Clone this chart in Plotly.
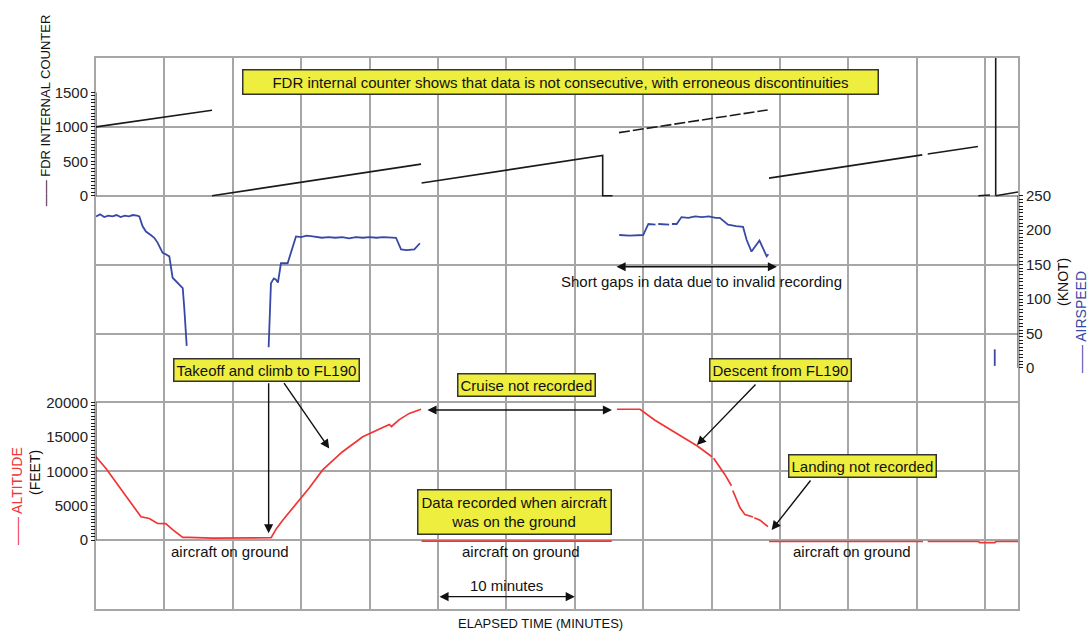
import numpy as np
import plotly.graph_objects as go

# ---------------- data (elapsed minutes / values) ----------------
# FDR internal counter (solid segments, None = break)
cnt_min = [0, 8.48, None, 8.48, 23.76, None, 23.8, 37.04, 37.04, 37.76, None,
           49.2, 60.4, None, 60.8, 64.47, None, 64.5, 65.35, None,
           65.77, 65.77, None, 65.77, 67.4]
cnt_val = [1000, 1242, None, 0, 459, None, 184, 584, 0, 0, None,
           256, 593, None, 605, 715, None, 0, 10, None,
           0, 3000, None, 0, 55]
# counter segment recorded with short gaps (dashed)
cnt2_min = [38.23, 49.1]
cnt2_val = [917, 1246]

# Airspeed (knots)
spd_min = [0, 0.3, 0.6, 0.9, 1.2, 1.5, 1.8, 2.1, 2.4, 2.7, 3.0, 3.17, 3.4, 3.65, 4.0, 4.26,
           4.5, 4.87, 5.1, 5.36, 5.6, 6.09, 6.34, 6.46, 6.63, None,
           12.62, 12.79, 13.0, 13.16, 13.3, 13.52, 14.01, 14.62, 15.0, 15.4, 15.84, 16.5,
           17.0, 17.5, 18.0, 18.5, 19.0, 19.5, 20.0, 20.5, 21.0, 21.5, 21.93, 22.3, 22.7,
           23.27, 23.68, None,
           38.25, 39.0, 40.0, 40.38, 40.9, None, 41.1, 41.9, None, 42.1, 42.45, 42.8, 43.3,
           43.8, 44.3, 44.8, 45.3, 45.6, 46.2, 46.8, 47.3, 47.56, 47.92, 48.5, 49.03, 49.15,
           None,
           65.7, 65.7]
spd_val = [220, 223, 219, 221, 220, 222, 219, 221, 220, 222, 221, 220, 206, 198, 193, 189,
           182, 167, 165, 162, 131, 121, 116, 85, 32, None,
           30, 123, 130, 128, 124, 152, 152, 191, 190, 192, 191, 189,
           190, 189, 190, 188, 190, 189, 190, 189, 190, 189, 189, 172, 171,
           172, 181, None,
           193, 192, 193, 209, 208, None, 209, 208, None, 209, 209, 219, 218,
           220, 219, 220, 218, 218, 208, 206, 205, 186, 169, 185, 162, 165,
           None,
           27, 3]

# Altitude (feet)
alt_min = [0, 0.73, 3.29, 3.9, 4.5, 5.1, 5.6, 6.34, 6.8, 8.5, 12.8, 13.2, 13.65, 14.6,
           15.6, 16.57, 18.0, 19.5, 21.44, 21.6, 22.17, 22.9, 23.76, None,
           23.8, 37.7, None,
           38.08, 39.77, 40.86, 42.32, 43.93, 45.03, None, 45.15, 45.98, 46.45, None,
           46.55, 47.08, 47.44, 48.03, None, 48.12, 48.54, 49.12, None,
           49.2, 60.45, None, 60.8, 64.5, 64.6, 65.7, 65.8, 67.4]
alt_val = [12100, 10400, 3390, 3150, 2420, 2400, 1530, 390, 390, 300, 350, 1700, 2900, 5160,
           7600, 10200, 12800, 15000, 16800, 16500, 17500, 18400, 19000, None,
           -150, -150, None,
           19000, 19000, 17400, 15700, 13700, 12100, None, 11900, 9500, 7900, None,
           7200, 4700, 3700, 3350, None, 3250, 2900, 1950, None,
           -200, -200, None, -200, -200, -350, -350, -200, -200]

# axis ticks
cnt_ticks = [0, 500, 1000, 1500]
spd_ticks = [0, 50, 100, 150, 200, 250]
alt_ticks = [0, 5000, 10000, 15000, 20000]

X_MAX = 67.4
GRID = "#a6a6a6"
BLACK = "#1a1a1a"
RED = "#f03535"
BLUE = "#3748a6"
YEL = "#eeee3e"
FONT = "Liberation Sans"

fig = go.Figure()
fig.add_trace(go.Scatter(x=cnt_min, y=cnt_val, yaxis="y2", mode="lines",
                         line=dict(color=BLACK, width=1.6), connectgaps=False))
fig.add_trace(go.Scatter(x=cnt2_min, y=cnt2_val, yaxis="y2", mode="lines",
                         line=dict(color=BLACK, width=1.6, dash="11px,3px")))
fig.add_trace(go.Scatter(x=spd_min, y=spd_val, yaxis="y3", mode="lines",
                         line=dict(color=BLUE, width=1.8), connectgaps=False))
fig.add_trace(go.Scatter(x=alt_min, y=alt_val, yaxis="y4", mode="lines",
                         line=dict(color=RED, width=1.7), connectgaps=False))

tickfont = dict(family=FONT, size=15, color="#222")

def side_axis(rng, ticks, minor_step, side):
    return dict(overlaying="y", anchor="x", side=side, range=rng,
                tickmode="array", tickvals=ticks, ticktext=[str(t) for t in ticks],
                ticks="outside", ticklen=4, tickwidth=1,
                tickcolor=BLACK, tickfont=tickfont, showgrid=False, zeroline=False,
                showline=False, automargin=False,
                minor=dict(tickmode="array",
                           tickvals=list(np.arange(ticks[0], ticks[-1] + minor_step / 2, minor_step)),
                           ticks="outside", ticklen=4, tickwidth=0.8, tickcolor=BLACK, showgrid=False))

fig.update_layout(
    width=1089, height=632, template="none",
    paper_bgcolor="white", plot_bgcolor="white",
    margin=dict(l=96, r=71, t=58, b=23, autoexpand=False),
    showlegend=False,
    xaxis=dict(range=[0, X_MAX], tick0=0, dtick=5, showgrid=True, gridcolor=GRID, gridwidth=1.6,
               showticklabels=False, ticks="", zeroline=False, showline=True, mirror=True,
               linecolor=GRID, linewidth=1.6, automargin=False),
    yaxis=dict(range=[0, 8], tick0=0, dtick=1, showgrid=True, gridcolor=GRID, gridwidth=1.6,
               showticklabels=False, ticks="", zeroline=False, showline=True, mirror=True,
               linecolor=GRID, linewidth=1.6, automargin=False),
    yaxis2=side_axis([-6000, 2000], cnt_ticks, 50, "left"),
    yaxis3=side_axis([-350, 450], spd_ticks, 5, "right"),
    yaxis4=side_axis([-10000, 70000], alt_ticks, 500, "left"),
)

# ruler-style axis lines
for yref, top, anchor, off in [("y2", cnt_ticks[-1], 0, -4), ("y4", alt_ticks[-1], 0, -4),
                               ("y3", spd_ticks[-1], X_MAX, 4)]:
    for o in (0, off):
        fig.add_shape(type="line", xref="x", xsizemode="pixel", xanchor=anchor, x0=o, x1=o,
                      yref=yref, y0=0, y1=top, line=dict(color=BLACK, width=1))

ann_font = dict(family=FONT, size=15, color="#111")

def box(text, x, y, pad=4, w=None):
    kw = dict(width=w) if w else {}
    fig.add_annotation(text=text, x=x, y=y, xref="x", yref="y", showarrow=False,
                       bgcolor=YEL, bordercolor="#333", borderwidth=1.5, borderpad=pad,
                       font=ann_font, align="center", **kw)

def label(text, x, y):
    fig.add_annotation(text=text, x=x, y=y, xref="x", yref="y", showarrow=False, font=ann_font)

def arrow(x0, y0, x1, y1, both=False):
    fig.add_annotation(text="", x=x1, y=y1, ax=x0, ay=y0, xref="x", yref="y",
                       axref="x", ayref="y", showarrow=True, arrowhead=2, arrowsize=1.3,
                       arrowwidth=1.4, arrowcolor="#111",
                       arrowside="end+start" if both else "end")

box("FDR internal counter shows that data is not consecutive, with erroneous discontinuities",
    33.99, 7.65, pad=3, w=628)
label("Short gaps in data due to invalid recording", 44.23, 4.75)
arrow(37.94, 4.97, 49.78, 4.97, both=True)
box("Takeoff and climb to FL190", 12.5, 3.47, pad=2)
arrow(12.62, 3.30, 12.62, 1.10)
arrow(13.67, 3.30, 17.05, 2.33)
box("Cruise not recorded", 31.5, 3.25, pad=2)
arrow(24.12, 2.89, 37.72, 2.89, both=True)
box("Descent from FL190", 50.07, 3.47, pad=2)
arrow(48.32, 3.28, 43.93, 2.38)
box("Landing not recorded", 56.0, 2.076, pad=2)
arrow(52.32, 1.887, 49.39, 1.147)
box("Data recorded when aircraft<br>was on the ground", 30.56, 1.41, pad=3)
for xm in (9.8, 31.07, 55.26):
    label("aircraft on ground", xm, 0.842)
label("10 minutes", 30.04, 0.348)
arrow(25.0, 0.179, 35.0, 0.179, both=True)

def title(text, x, y, color, angle=-90, size=14, family=FONT):
    fig.add_annotation(text=text, x=x, y=y, xref="paper", yref="paper", showarrow=False,
                       textangle=angle, font=dict(family=family, size=size, color=color),
                       xanchor="center", yanchor="middle")

title("\u2014\u2014 FDR INTERNAL COUNTER", -0.0553, 0.905, "#111", size=13)
title("\u2014\u2014 ALTITUDE", -0.0857, 0.205, RED)
title("(FEET)", -0.0662, 0.2486, "#111")
title("(KNOT)", 1.0488, 0.5935, "#111")
title("\u2014\u2014 AIRSPEED", 1.0683, 0.521, BLUE)
title("ELAPSED TIME (MINUTES)", 0.4826, -0.0272, "#111", angle=0, size=13,
      family="Liberation Sans Narrow, Liberation Sans")

fig.write_html("out.html", config={"displayModeBar": False},
               post_script="document.body.style.margin='0px';")
